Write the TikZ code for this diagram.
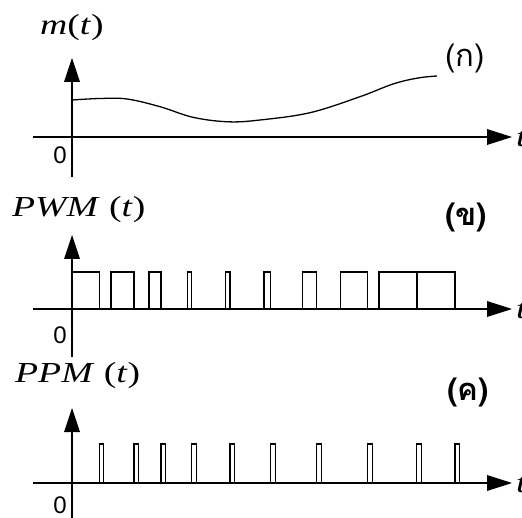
\documentclass[tikz,border=0pt]{standalone}
\usepackage{fontspec}
\usepackage{graphicx}
\usepackage{tikz}
\setmainfont{Liberation Serif}
\newfontfamily\thaifont[Script=Thai]{Loma}
\newfontfamily\zerofont{Liberation Sans}
\newcommand{\widetext}[1]{\scalebox{1.3}[1]{#1}}

\begin{document}
\begin{tikzpicture}[x=1pt,y=-1pt]
\tikzset{every node/.style={inner sep=0pt}}
\tikzset{siglabel/.style={anchor=base west, font=\fontsize{29}{30}\selectfont}}
\tikzset{partlabel/.style={anchor=base west, font=\fontsize{31}{32}\selectfont\thaifont}}
\tikzset{zerolabel/.style={font=\fontsize{24}{24}\selectfont\zerofont}}
\tikzset{axis/.style={line width=2.6pt}}
\tikzset{pulse/.style={line width=1.2pt}}
\useasboundingbox (0,0) rectangle (522,518);
% (a) message signal
\draw [axis] (72,177) -- (72,80);
\fill [black] (72,58) -- (64,82) -- (80,82) -- cycle;
\draw [axis] (33,137) -- (489,137);
\fill [black] (512,137) -- (487,129) -- (487,145) -- cycle;
\node [siglabel] (mlabel) at (40,35) {\widetext{\textit{m}(\textit{t})}};
\node [partlabel] (parta) at (445,67) {(ก)};
\node [zerolabel] (zeroa) at (60,155) {0};
\node [siglabel] (ta) at (516,147) {\widetext{\textit{t}}};
\draw [line width=1.3pt] plot [smooth, tension=0.6] coordinates {(72,100) (100,98.5) (127,99) (160,106.7) (193,117.3) (228,121.8) (260,120) (310,112.7) (360,96.7) (393,84) (418,78) (437,76)};
% (b) PWM
\draw [axis] (72,357) -- (72,257);
\fill [black] (72,235) -- (64,259) -- (80,259) -- cycle;
\draw [axis] (33,309) -- (489,309);
\fill [black] (512,309) -- (487,301) -- (487,317) -- cycle;
\node [siglabel] (pwmlabel) at (12,217) {\widetext{\textit{PWM} (\textit{t})}};
\node [partlabel, font=\fontsize{31}{32}\selectfont\thaifont\bfseries] (partb) at (445,226) {(ข)};
\node [zerolabel] (zerob) at (60,335) {0};
\node [siglabel] (tb) at (516,319) {\widetext{\textit{t}}};
\draw [pulse] (72.7,309) rectangle (99.3,272);
\draw [pulse] (111,309) rectangle (134,272);
\draw [pulse] (149,309) rectangle (161,272);
\draw [pulse] (187.3,309) rectangle (191.7,272);
\draw [pulse] (225.7,309) rectangle (230,272);
\draw [pulse] (264,309) rectangle (270.7,272);
\draw [pulse] (302.3,309) rectangle (316.7,272);
\draw [pulse] (340.7,309) rectangle (367.7,272);
\draw [pulse] (379,309) rectangle (416.7,272);
\draw [pulse] (417.3,309) rectangle (455,272);
% (c) PPM
\draw [axis] (72,520) -- (72,430);
\fill [black] (72,408) -- (64,432) -- (80,432) -- cycle;
\draw [axis] (33,483) -- (489,483);
\fill [black] (512,483) -- (487,475) -- (487,491) -- cycle;
\node [siglabel] (ppmlabel) at (15,382) {\widetext{\textit{PPM} (\textit{t})}};
\node [partlabel, font=\fontsize{31}{32}\selectfont\thaifont\bfseries] (partc) at (447,400) {(ค)};
\node [zerolabel] (zeroc) at (60,505) {0};
\node [siglabel] (tc) at (516,492) {\widetext{\textit{t}}};
\draw [pulse] (99.3,483) rectangle (103.8,444);
\draw [pulse] (134,483) rectangle (138.5,444);
\draw [pulse] (161,483) rectangle (165.5,444);
\draw [pulse] (191.7,483) rectangle (196.2,444);
\draw [pulse] (230,483) rectangle (234.5,444);
\draw [pulse] (270.7,483) rectangle (275.2,444);
\draw [pulse] (316.7,483) rectangle (321.2,444);
\draw [pulse] (367.7,483) rectangle (372.2,444);
\draw [pulse] (416.7,483) rectangle (421.2,444);
\draw [pulse] (455,483) rectangle (459.5,444);
\end{tikzpicture}
\end{document}
